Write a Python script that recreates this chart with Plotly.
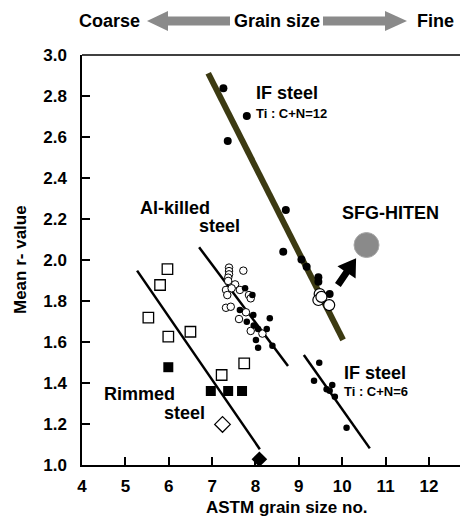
import math
import plotly.graph_objects as go

# ---------------- data ----------------
if12_x = [7.26, 7.36, 7.80, 8.70, 8.64, 9.06, 9.18, 9.45, 9.45, 9.71]
if12_y = [2.838, 2.580, 2.702, 2.244, 2.040, 2.003, 1.967, 1.916, 1.894, 1.834]
if12_open_x = [9.48, 9.45, 9.70, 9.52]
if12_open_y = [1.834, 1.805, 1.780, 1.820]
if12_line_x = [6.91, 10.02]
if12_line_y = [2.911, 1.610]

if6_x = [9.47, 9.35, 9.77, 9.64, 9.71, 9.83, 10.10]
if6_y = [1.499, 1.411, 1.390, 1.369, 1.362, 1.333, 1.182]
if6_line_x = [9.115, 10.636]
if6_line_y = [1.537, 1.081]

al_open_x = [7.39, 7.39, 7.39, 7.37, 7.37, 7.72, 7.53, 7.32, 7.35, 7.45, 7.64, 7.85,
             7.89, 7.32, 7.43, 7.62, 7.78, 7.89, 8.16]
al_open_y = [1.963, 1.946, 1.930, 1.914, 1.898, 1.948, 1.881, 1.854, 1.829, 1.862, 1.854, 1.829,
             1.813, 1.767, 1.772, 1.712, 1.745, 1.654, 1.641]
al_fill_x = [7.76, 7.93, 7.64, 7.95, 7.80, 7.96, 8.33, 8.06, 8.26, 8.01, 8.06, 8.39]
al_fill_y = [1.862, 1.829, 1.756, 1.732, 1.699, 1.680, 1.716, 1.663, 1.663, 1.610, 1.572, 1.582]
al_line_x = [6.70, 8.75]
al_line_y = [2.062, 1.483]

rim_open_x = [5.97, 5.80, 5.53, 5.99, 6.50, 7.22, 7.74]
rim_open_y = [1.955, 1.878, 1.719, 1.626, 1.650, 1.439, 1.496]
rim_fill_x = [5.99, 6.97, 7.37, 7.69]
rim_fill_y = [1.477, 1.361, 1.361, 1.361]
dia_open_x = [7.24]
dia_open_y = [1.198]
dia_fill_x = [8.09]
dia_fill_y = [1.028]
rim_line_x = [5.27, 8.10]
rim_line_y = [1.948, 1.077]

sfg_x = [10.56]
sfg_y = [2.073]
sfg_arrow_tail = (9.90, 1.878)
sfg_arrow_tip = (10.32, 2.008)

x_ticks = [4, 5, 6, 7, 8, 9, 10, 11, 12]
y_ticks = [1.0, 1.2, 1.4, 1.6, 1.8, 2.0, 2.2, 2.4, 2.6, 2.8, 3.0]

# ---------------- layout constants ----------------
OFF = 8                      # default page body margin
PAGE_W, PAGE_H = 468, 517
W, H = PAGE_W - OFF, PAGE_H - OFF
PLOT_L, PLOT_R, PLOT_T, PLOT_B = 82, 468, 55, 465   # in page pixels
ML, MR, MT, MB = PLOT_L - OFF, PAGE_W - PLOT_R, PLOT_T - OFF, PAGE_H - PLOT_B
XMIN, XMAX = 4.0, 12.9
YMIN, YMAX = 1.0, 3.0
PW = PLOT_R - PLOT_L
PH = PLOT_B - PLOT_T
SX = PW / (XMAX - XMIN)
SY = PH / (YMAX - YMIN)

FONT = "Liberation Sans, Arial, Helvetica, sans-serif"


def px2paper(px, py):
    return (px - PLOT_L) / PW, (PLOT_B - py) / PH


def pp(px, py):
    a, b = px2paper(px, py)
    return f"{a:.5f},{b:.5f}"


fig = go.Figure()

# lines
fig.add_trace(go.Scatter(x=if12_line_x, y=if12_line_y, mode="lines",
                         line=dict(color="#3c3a12", width=6), hoverinfo="skip"))
for lx, ly in [(al_line_x, al_line_y), (rim_line_x, rim_line_y), (if6_line_x, if6_line_y)]:
    fig.add_trace(go.Scatter(x=lx, y=ly, mode="lines",
                             line=dict(color="black", width=2.5), hoverinfo="skip"))

# markers
fig.add_trace(go.Scatter(x=if12_x, y=if12_y, mode="markers",
                         marker=dict(color="black", size=8, line=dict(width=0))))
fig.add_trace(go.Scatter(x=if12_open_x, y=if12_open_y, mode="markers",
                         marker=dict(color="white", size=11, line=dict(color="black", width=1.2))))
fig.add_trace(go.Scatter(x=al_open_x, y=al_open_y, mode="markers",
                         marker=dict(color="white", size=7.5, line=dict(color="black", width=1))))
fig.add_trace(go.Scatter(x=al_fill_x, y=al_fill_y, mode="markers",
                         marker=dict(color="black", size=6.5, line=dict(width=0))))
fig.add_trace(go.Scatter(x=if6_x, y=if6_y, mode="markers",
                         marker=dict(color="black", size=6.5, line=dict(width=0))))
fig.add_trace(go.Scatter(x=rim_open_x, y=rim_open_y, mode="markers",
                         marker=dict(symbol="square", color="white", size=10.5,
                                     line=dict(color="black", width=1.3))))
fig.add_trace(go.Scatter(x=rim_fill_x, y=rim_fill_y, mode="markers",
                         marker=dict(symbol="square", color="black", size=10, line=dict(width=0))))
fig.add_trace(go.Scatter(x=dia_open_x, y=dia_open_y, mode="markers",
                         marker=dict(symbol="diamond", color="white", size=12,
                                     line=dict(color="black", width=1.3))))
fig.add_trace(go.Scatter(x=dia_fill_x, y=dia_fill_y, mode="markers",
                         marker=dict(symbol="diamond", color="black", size=12, line=dict(width=0)),
                         cliponaxis=False))
fig.add_trace(go.Scatter(x=sfg_x, y=sfg_y, mode="markers",
                         marker=dict(color="#8a8a8a", size=25, line=dict(color="#a8a8a8", width=1))))

# SFG arrow (polygon computed in pixel space from data tail/tip)
tx, ty = (sfg_arrow_tail[0] - XMIN) * SX, (sfg_arrow_tail[1] - YMIN) * SY
hx, hy = (sfg_arrow_tip[0] - XMIN) * SX, (sfg_arrow_tip[1] - YMIN) * SY
L = math.hypot(hx - tx, hy - ty)
ux, uy = (hx - tx) / L, (hy - ty) / L
nx, ny = -uy, ux
head_len, head_w, shaft_w = 17, 11, 3.5
bx, by = hx - ux * head_len, hy - uy * head_len
pts = [(tx + nx * shaft_w, ty + ny * shaft_w), (bx + nx * shaft_w, by + ny * shaft_w),
       (bx + nx * head_w, by + ny * head_w), (hx, hy),
       (bx - nx * head_w, by - ny * head_w), (bx - nx * shaft_w, by - ny * shaft_w),
       (tx - nx * shaft_w, ty - ny * shaft_w)]
path = "M" + "L".join(f"{XMIN + px / SX:.4f},{YMIN + py / SY:.4f}" for px, py in pts) + "Z"
fig.add_shape(type="path", path=path, xref="x", yref="y",
              fillcolor="black", line=dict(width=0))

# top border
fig.add_shape(type="line", xref="paper", yref="paper", x0=0, x1=1, y0=1, y1=1,
              line=dict(color="black", width=1.5))

# header arrows (grey)
grey = "#8a8a8a"
left_arrow = [(147, 21), (168, 11), (168, 16.5), (230, 16.5), (230, 25.5), (168, 25.5), (168, 31)]
right_arrow = [(323, 16.5), (385, 16.5), (385, 11), (407, 21), (385, 31), (385, 25.5), (323, 25.5)]
for poly in (left_arrow, right_arrow):
    fig.add_shape(type="path", xref="paper", yref="paper",
                  path="M" + "L".join(pp(a, b) for a, b in poly) + "Z",
                  fillcolor=grey, line=dict(width=0))


def ann(text, x, y, size=18, xref="x", yref="y", xanchor="left", **kw):
    fig.add_annotation(text=text, x=x, y=y, xref=xref, yref=yref, xanchor=xanchor,
                       yanchor="middle", showarrow=False,
                       font=dict(family=FONT, size=size, color="black", weight="bold"), **kw)


def ann_px(text, px, py, size=18, **kw):
    a, b = px2paper(px, py)
    ann(text, a, b, size=size, xref="paper", yref="paper", xanchor="center", **kw)


# header text
ann_px("Coarse", 109, 21)
ann_px("Grain size", 277, 21)
ann_px("Fine", 435.5, 21)

# in-plot labels
ann("IF steel", 7.97, 2.815)
ann("Ti : C+N=12", 7.97, 2.717, size=13)
ann("IF steel", 10.0, 1.450)
ann("Ti : C+N=6", 10.0, 1.358, size=13)
ann("Al-killed", 5.30, 2.252)
ann("steel", 6.64, 2.167)
ann("SFG-HITEN", 9.94, 2.231)
ann("Rimmed", 4.46, 1.346)
ann("steel", 5.85, 1.254)

# axis titles
ann_px("ASTM grain size no.", 287, 507.5, size=17)
ann_px("Mean r- value", 20, 260, size=17, textangle=-90)

axis_font = dict(family=FONT, size=17, color="black", weight="bold")
fig.update_xaxes(range=[XMIN, XMAX], tickvals=x_ticks, ticktext=[str(v) for v in x_ticks],
                 ticks="inside", ticklen=8, tickwidth=1.5, tickcolor="black",
                 showline=True, linecolor="black", linewidth=1.5, showgrid=False, zeroline=False,
                 tickfont=axis_font, ticklabelstandoff=5)
fig.update_yaxes(range=[YMIN, YMAX], tickvals=y_ticks, ticktext=[f"{v:.1f}" for v in y_ticks],
                 ticks="inside", ticklen=8, tickwidth=1.5, tickcolor="black",
                 showline=True, linecolor="black", linewidth=1.5, showgrid=False, zeroline=False,
                 tickfont=axis_font, ticklabelstandoff=10)

fig.update_layout(width=W, height=H, margin=dict(l=ML, r=MR, t=MT, b=MB),
                  plot_bgcolor="white", paper_bgcolor="white", showlegend=False,
                  font=dict(family=FONT))

fig.write_html("out.html")
